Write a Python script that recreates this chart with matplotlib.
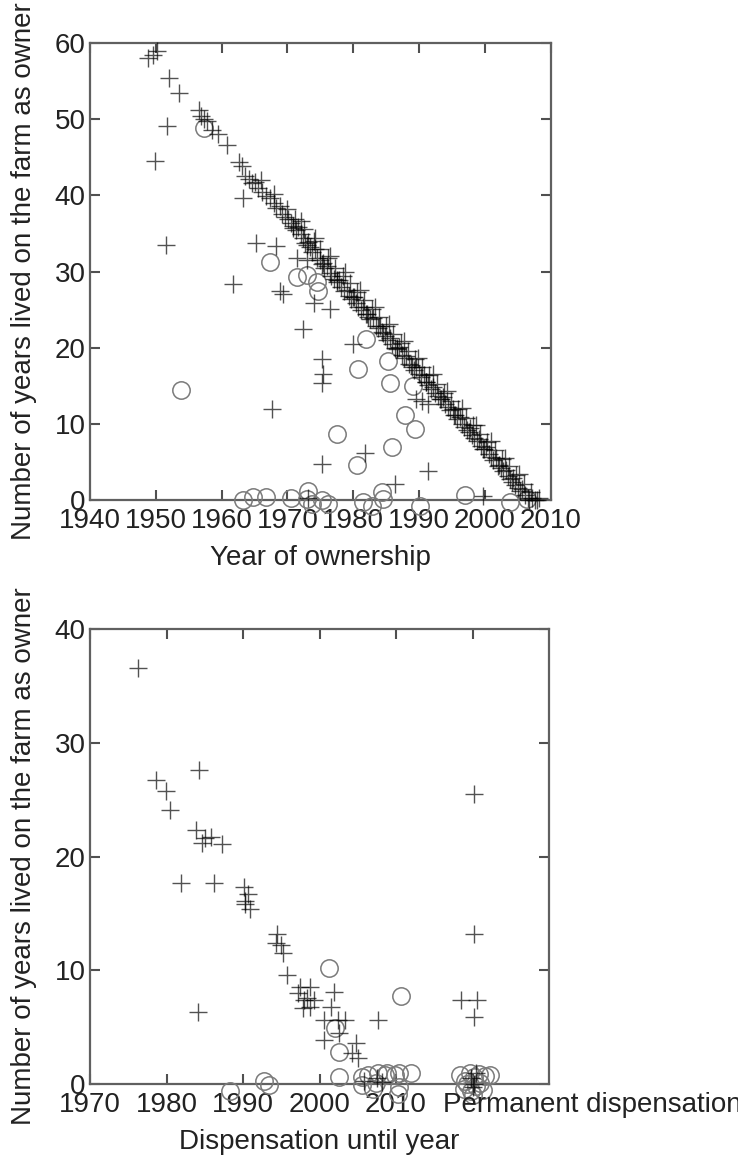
"""Years lived on the farm vs. year of ownership / dispensation year."""

import matplotlib

matplotlib.use("Agg")
import matplotlib.pyplot as plt

plt.rcParams["font.family"] = ["Liberation Sans", "DejaVu Sans"]

# ---- top panel: year of ownership ----
top_plus_x = [
    1948.8, 1949.6, 1950.2, 1952.0, 1953.5, 1956.5, 1956.9, 1957.3, 1957.8, 1958.6,
    1959.4, 1960.8, 1962.6, 1963.1, 1963.6, 1964.2, 1964.6, 1965.1, 1965.5, 1966.2,
    1966.8, 1967.4, 1967.9, 1968.3, 1968.8, 1969.2, 1969.7, 1970.1, 1970.5, 1970.9,
    1971.3, 1971.6, 1972.0, 1972.4, 1972.7, 1973.1, 1973.5, 1973.8, 1974.2, 1974.5,
    1974.9, 1975.3, 1975.6, 1976.0, 1976.4, 1976.7, 1977.1, 1977.5, 1977.8, 1978.2,
    1978.6, 1979.0, 1979.3, 1979.7, 1980.1, 1980.4, 1980.8, 1981.2, 1981.5, 1981.9,
    1982.3, 1982.6, 1983.0, 1983.4, 1983.7, 1984.1, 1984.5, 1984.8, 1985.2, 1985.6,
    1985.9, 1986.3, 1986.7, 1987.0, 1987.4, 1987.8, 1988.1, 1988.5, 1988.9, 1989.2,
    1989.6, 1990.0, 1990.3, 1990.7, 1991.1, 1991.4, 1991.8, 1992.2, 1992.5, 1992.9,
    1993.3, 1993.6, 1994.0, 1994.4, 1994.7, 1995.1, 1995.5, 1995.8, 1996.2, 1996.6,
    1996.9, 1997.3, 1997.7, 1998.0, 1998.4, 1998.8, 1999.1, 1999.5, 1999.9, 2000.2,
    2000.6, 2001.0, 2001.3, 2001.7, 2002.1, 2002.4, 2002.8, 2003.2, 2003.5, 2003.9,
    2004.3, 2004.6, 2005.0, 2005.4, 2005.7, 2006.1, 2006.5, 2006.8, 2007.2, 2007.6,
    2008.0, 2008.3,
    # upper edge of the band
    1966.0, 1968.0, 1970.0, 1971.2, 1972.5, 1974.0, 1975.0, 1976.2, 1977.3, 1978.4,
    1979.5, 1980.6, 1981.7, 1982.8, 1983.9, 1985.0, 1986.1, 1987.2, 1988.3, 1989.4,
    1990.5, 1991.6, 1992.7, 1993.8, 1994.9, 1996.0, 1997.1, 1998.2, 1999.3, 2000.4,
    2001.5, 2002.6, 2003.7, 2004.8, 2005.9, 2007.0,
    # lower edge of the band
    1970.8, 1973.0, 1975.4, 1977.6, 1979.9, 1982.1, 1984.4, 1986.6, 1988.8, 1991.0,
    1993.2, 1995.4, 1997.6, 1999.8, 2002.0, 2004.2,
    1972.0, 1974.2, 1976.5, 1978.8, 1981.0, 1983.3, 1985.5, 1987.7, 1989.9, 1992.1,
    1994.3, 1996.5, 1998.7, 2000.9, 2003.1, 2005.2,
    # off the diagonal
    1949.8, 1951.7, 1951.5, 1963.3, 1965.2, 1968.3, 1961.8, 1968.9, 1969.4, 1972.4,
    1975.2, 1975.4, 1975.2, 1967.7, 1975.3, 1974.0, 1976.5, 1980.0, 1981.8, 1986.4,
    1991.4, 1989.5, 1990.5, 1991.3, 1999.7, 1973.2, 1971.5, 1973.0,
]
top_plus_y = [
    58.0, 58.4, 58.9, 55.4, 53.4, 51.2, 50.4, 50.0, 49.8, 48.6,
    48.0, 46.6, 44.4, 43.8, 42.6, 42.2, 41.6, 41.8, 40.9, 40.5,
    39.9, 39.6, 39.0, 38.3, 38.6, 37.6, 37.2, 36.9, 36.4, 36.0,
    35.4, 35.8, 34.9, 34.4, 33.8, 33.9, 33.2, 32.6, 32.9, 31.8,
    31.5, 31.0, 30.5, 30.7, 29.8, 29.4, 29.0, 28.6, 28.9, 27.9,
    27.5, 27.6, 26.8, 26.4, 26.6, 25.9, 25.4, 25.0, 25.3, 24.4,
    24.0, 23.7, 23.9, 22.9, 22.6, 22.8, 21.9, 21.5, 21.0, 21.3,
    20.5, 20.0, 19.8, 20.1, 19.0, 18.6, 18.9, 17.9, 17.5, 17.1,
    17.4, 16.6, 16.1, 16.4, 15.5, 15.1, 14.6, 14.9, 14.0, 13.6,
    13.2, 13.5, 12.6, 12.2, 11.8, 12.0, 11.1, 10.7, 10.9, 10.0,
    9.6, 9.2, 9.5, 8.6, 8.2, 7.8, 8.0, 7.1, 6.7, 6.9,
    6.0, 5.6, 5.2, 5.5, 4.6, 4.2, 3.8, 4.0, 3.1, 2.7,
    2.9, 2.0, 1.6, 1.2, 1.5, 0.6, 0.3, 0.0, 0.2, 0.0,
    0.0, 0.2,
    42.0, 40.2, 38.2, 36.9, 35.6, 34.0, 32.9, 31.8, 30.5, 29.4,
    28.5, 27.3, 26.2, 25.1, 24.0, 22.8, 21.8, 20.6, 19.6, 18.5,
    17.4, 16.4, 15.2, 14.1, 13.0, 12.0, 10.8, 9.8, 8.7, 7.6,
    6.5, 5.4, 4.4, 3.3, 2.1, 1.1,
    35.7, 33.5, 31.1, 28.9, 26.6, 24.4, 22.1, 19.9, 17.7, 15.5,
    13.3, 11.1, 8.9, 6.7, 4.5, 2.3,
    36.6, 34.4, 32.1, 29.9, 27.6, 25.4, 23.1, 20.9, 18.7, 16.5,
    14.3, 12.1, 9.9, 7.7, 5.5, 3.4,
    44.5, 49.1, 33.5, 39.6, 33.7, 33.4, 28.4, 27.4, 27.0, 22.4,
    18.5, 16.6, 15.4, 12.0, 4.7, 25.8, 25.1, 20.5, 6.2, 2.1,
    3.8, 13.2, 13.0, 12.6, 0.5, 0.3, 31.8, 31.5,
]
top_circ_x = [
    1957.3, 1967.4, 1971.4, 1973.0, 1974.5, 1974.6, 1953.8, 1982.0, 1980.8, 1985.3,
    1985.6, 1989.1, 1987.9, 1989.4, 1977.6, 1985.9, 1980.6,
    1963.3, 1964.8, 1966.7, 1970.5, 1973.2, 1973.0, 1973.8, 1975.3, 1976.1, 1981.5,
    1982.9, 1984.5, 1984.4, 1990.2, 1997.0, 2003.8, 2006.4,
]
top_circ_y = [
    48.8, 31.2, 29.3, 29.5, 28.6, 27.4, 14.5, 21.2, 17.2, 18.3,
    15.4, 15.0, 11.1, 9.3, 8.7, 6.9, 4.6,
    0.0, 0.4, 0.4, 0.3, 1.2, 0.1, -0.5, 0.0, -0.5, -0.3,
    -0.8, 0.1, 1.0, -0.8, 0.7, -0.3, 0.1,
]
top_xticks = [1940, 1950, 1960, 1970, 1980, 1990, 2000, 2010]
top_yticks = [0, 10, 20, 30, 40, 50, 60]

# ---- bottom panel: dispensation until year (2020 = permanent) ----
bot_plus_x = [
    1976.3, 1978.6, 1979.9, 1984.3, 1980.4, 1983.8, 1984.7, 1985.0, 1985.8, 1987.3,
    1981.9, 1986.2, 1990.1, 1990.6, 1990.2, 1990.9, 1990.3, 1994.5, 1995.0, 1995.2,
    1994.3, 1995.8, 1997.5, 1997.2, 1998.0, 1997.9, 1998.7, 1998.3, 1999.3, 1998.7,
    2001.9, 2001.5, 2000.6, 2002.4, 2003.3, 2000.6, 2002.6, 2004.8, 2005.0, 2004.3,
    2007.6, 1984.1, 2020.2, 2018.5, 2020.6, 2020.2, 2020.2, 2005.8, 2007.5, 2008.2,
    2019.8, 2020.2, 2020.4, 2020.0,
]
bot_plus_y = [
    36.6, 26.7, 25.8, 27.6, 24.1, 22.3, 21.2, 21.6, 21.7, 21.1,
    17.7, 17.7, 17.3, 16.7, 16.1, 15.4, 15.8, 13.2, 12.2, 11.5,
    12.4, 9.6, 8.5, 8.0, 7.4, 6.7, 8.5, 7.6, 7.4, 6.8,
    8.1, 6.8, 5.6, 5.6, 5.6, 3.9, 4.5, 3.6, 2.3, 2.7,
    5.6, 6.3, 13.2, 7.4, 7.4, 5.9, 25.5, 0.3, 0.5, 0.2,
    0.5, 0.0, 1.0, -0.3,
]
bot_circ_x = [
    1992.8, 1993.4, 1988.3, 2001.2, 2002.0, 2002.6, 2002.6, 2010.7,
    2005.5, 2006.3, 2007.6, 2008.5, 2009.8, 2010.4, 2012.0, 2007.4, 2010.4, 2008.8,
    2010.3, 2005.5, 2007.0,
    2018.4, 2019.0, 2019.6, 2020.2, 2020.8, 2021.6, 2022.3, 2018.9, 2019.8, 2020.5,
    2021.3, 2020.0, 2019.3, 2021.0,
]
bot_circ_y = [
    0.3, -0.1, -0.6, 10.2, 4.9, 2.8, 0.6, 7.7,
    0.6, 0.8, 1.0, 0.8, 0.8, 1.0, 1.0, 0.1, -0.3, 1.0,
    -0.9, -0.1, -0.4,
    0.8, 0.3, 1.0, 0.6, 0.9, 0.7, 0.8, -0.4, -0.6, -0.2,
    -0.5, -1.0, 0.0, 0.1,
]
bot_xticks = [1970, 1980, 1990, 2000, 2010, 2020]
bot_xticklabels = ["1970", "1980", "1990", "2000", "2010", ""]
bot_yticks = [0, 10, 20, 30, 40]

FS = 20
TXT = "#222222"
SPINE = "#606060"
YLABEL = "Number of years lived on the farm as owner"

fig = plt.figure(figsize=(7.38, 11.62), dpi=100)
ax1 = fig.add_axes([0.122, 0.5697, 0.624, 0.3933])
ax2 = fig.add_axes([0.122, 0.0671, 0.622, 0.3916])


def draw(ax, px, py, cx, cy):
    ax.plot(cx, cy, linestyle="none", marker="o", ms=12.5, mfc="none",
            mec="#7a7a7a", mew=1.1, clip_on=False, zorder=3)
    ax.plot(px, py, linestyle="none", marker="+", ms=13, color="k",
            alpha=0.68, mew=1.0, clip_on=False, zorder=4)


def style(ax):
    for s in ax.spines.values():
        s.set_color(SPINE)
        s.set_linewidth(1.6)
    ax.tick_params(direction="in", length=7, width=1.5, color="#505050",
                   top=True, right=True, labelsize=FS, labelcolor=TXT)
    ax.tick_params(axis="x", pad=6)
    ax.tick_params(axis="y", pad=3)


draw(ax1, top_plus_x, top_plus_y, top_circ_x, top_circ_y)
ax1.set_xlim(1940, 2010)
ax1.set_ylim(0, 60)
ax1.set_xticks(top_xticks)
ax1.set_yticks(top_yticks)
style(ax1)
ax1.set_xlabel("Year of ownership", fontsize=FS, color=TXT, labelpad=8)
ax1.set_ylabel(YLABEL, fontsize=FS, color=TXT, labelpad=13)

draw(ax2, bot_plus_x, bot_plus_y, bot_circ_x, bot_circ_y)
ax2.set_xlim(1970, 2030)
ax2.set_ylim(0, 40)
ax2.set_xticks(bot_xticks)
ax2.set_xticklabels(bot_xticklabels)
ax2.set_yticks(bot_yticks)
style(ax2)
ax2.annotate("Permanent dispensation", xy=(2016.2, 0),
             xycoords=("data", "axes fraction"), xytext=(0, -6),
             textcoords="offset points", ha="left", va="top",
             fontsize=FS, color=TXT, annotation_clip=False)
ax2.set_xlabel("Dispensation until year", fontsize=FS, color=TXT,
               labelpad=8)
ax2.set_ylabel(YLABEL, fontsize=FS, color=TXT, labelpad=13)

fig.savefig("out.png", dpi=100)
